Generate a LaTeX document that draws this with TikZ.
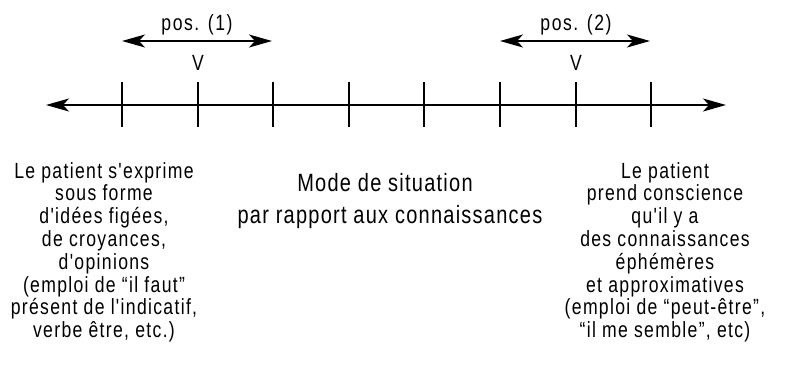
\documentclass[tikz,border=0pt]{standalone}
\usepackage{fontspec}
\newfontfamily\nf{Liberation Sans}[FakeStretch=0.8,LetterSpace=6]
\newfontfamily\nfc{Liberation Sans}[FakeStretch=0.8,LetterSpace=5]
\newfontfamily\nfp{Liberation Sans}[FakeStretch=0.8,LetterSpace=7]
\usetikzlibrary{arrows.meta}
\begin{document}
\begin{tikzpicture}[x=1pt,y=-1pt,
  dtip/.style={{Stealth[length=23pt,width=13pt,inset=6pt]}-{Stealth[length=23pt,width=13pt,inset=6pt]}},
  ln/.style={line width=1.3pt},
  lbl/.style={inner sep=0pt,anchor=base,font=\nfp\fontsize{22}{25.7}\selectfont},
  ctr/.style={inner sep=0pt,anchor=base,font=\nfc\fontsize{25}{30}\selectfont},
  blk/.style={inner sep=0pt,align=center,font=\nf\fontsize{22}{22.8}\selectfont,anchor=north}]
\useasboundingbox (0,0) rectangle (788,367);
% axis
\coordinate (al) at (46,105);
\coordinate (ar) at (726,105);
\draw[ln,dtip] (al) -- (ar);
\foreach \i/\x in {1/122,2/198,3/273,4/349,5/424,6/500,7/576,8/651}{
  \coordinate (t\i a) at (\x,82);
  \coordinate (t\i b) at (\x,127);
  \draw[ln] (t\i a) -- (t\i b);
}
% pos arrows
\coordinate (p1l) at (122,41); \coordinate (p1r) at (272,41);
\coordinate (p2l) at (500,41); \coordinate (p2r) at (650,41);
\draw[ln,dtip] (p1l) -- (p1r);
\draw[ln,dtip] (p2l) -- (p2r);
\node[lbl] (pos1) at (197,30) {pos. (1)};
\node[lbl] (pos2) at (576,30) {pos. (2)};
\node[lbl] (v1) at (198,70) {V};
\node[lbl] (v2) at (576,70) {V};
% texts
\node[blk] (left) at (104,162) {Le patient s'exprime\\sous forme\\d'idées figées,\\de croyances,\\d'opinions\\(emploi de “il faut”\\présent de l'indicatif,\\verbe être, etc.)};
\node[blk] (right) at (665,162) {Le patient\\prend conscience\\qu'il y a\\des connaissances\\éphémères\\et approximatives\\(emploi de “peut-être”,\\“il me semble”, etc)};
\node[ctr] (mode) at (385,191) {Mode de situation};
\node[ctr] (par) at (390,223) {par rapport aux connaissances};
\end{tikzpicture}
\end{document}
